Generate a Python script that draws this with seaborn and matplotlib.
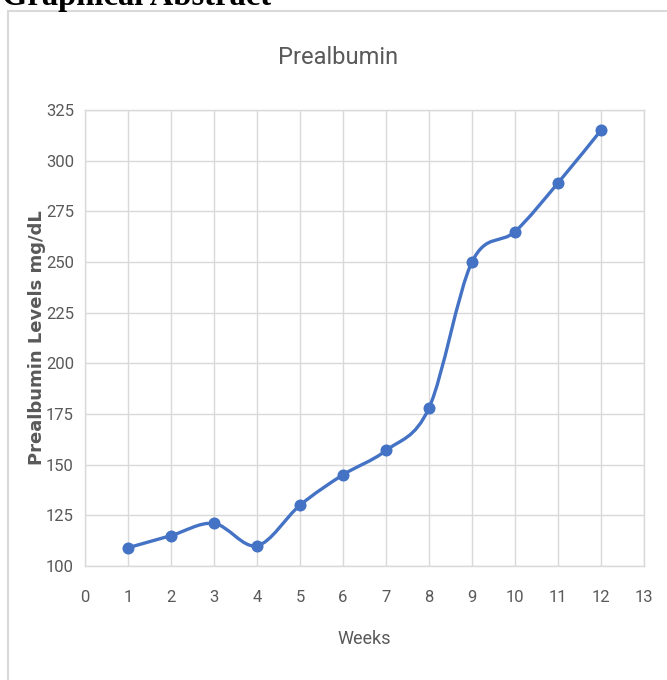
import numpy as np
import pandas as pd
import seaborn as sns
import matplotlib
matplotlib.use("Agg")
import matplotlib.pyplot as plt
from matplotlib.path import Path
from matplotlib.patches import PathPatch, Rectangle

weeks = [1, 2, 3, 4, 5, 6, 7, 8, 9, 10, 11, 12]
prealbumin = [109, 115, 121, 110, 130, 145, 157, 178, 250, 265, 289, 315]
x_ticks = list(range(0, 14))
y_ticks = [100, 125, 150, 175, 200, 225, 250, 275, 300, 325]
title = "Prealbumin"
x_label = "Weeks"
y_label = "Prealbumin Levels mg/dL"
header = "Graphical Abstract"

sns.set_theme(style="white")
plt.rcParams['font.family'] = ['Liberation Sans Narrow', 'Roboto', 'DejaVu Sans']

BLUE = "#4472C4"
GRID = "#d9d9d9"
TXT = "#595959"

fig = plt.figure(figsize=(6.67, 6.8), dpi=100)
ax = fig.add_axes([85/667, 1-566/680, (644-85)/667, (566-110)/680])

df = pd.DataFrame({"Weeks": weeks, "Prealbumin": prealbumin})

# smooth (Excel-like) curve via cubic Bezier segments through the data points
pts = np.column_stack([df["Weeks"].to_numpy(float), df["Prealbumin"].to_numpy(float)])
verts = [tuple(pts[0])]
codes = [Path.MOVETO]
n = len(pts)
for i in range(n - 1):
    p0 = pts[i - 1] if i > 0 else pts[i]
    p1 = pts[i]
    p2 = pts[i + 1]
    p3 = pts[i + 2] if i + 2 < n else pts[i + 1]
    c1 = p1 + (p2 - p0) / 6.0
    c2 = p2 - (p3 - p1) / 6.0
    verts += [tuple(c1), tuple(c2), tuple(p2)]
    codes += [Path.CURVE4] * 3
ax.add_patch(PathPatch(Path(verts, codes), facecolor="none", edgecolor=BLUE,
                       lw=2.4, capstyle="round", joinstyle="round", zorder=3))

sns.scatterplot(data=df, x="Weeks", y="Prealbumin", ax=ax, color=BLUE,
                s=75, edgecolor=BLUE, linewidth=0, zorder=4, legend=False)

ax.set_xlim(0, 13)
ax.set_ylim(100, 325)
ax.set_xticks(x_ticks)
ax.set_yticks(y_ticks)
ax.grid(True, color=GRID, lw=1)
for s in ax.spines.values():
    s.set_color(GRID)
    s.set_linewidth(1)
ax.tick_params(axis="both", length=0, labelsize=12, labelcolor=TXT)
ax.tick_params(axis="y", pad=8)
ax.tick_params(axis="x", pad=17)

ax.set_xlabel(x_label, fontsize=13, color=TXT, labelpad=18)
ax.set_ylabel(y_label, fontsize=13, color=TXT, fontweight="bold",
              family=['DejaVu Sans'], labelpad=0)
fig.text(338/667, 1 - 57/680, title, fontsize=17, color=TXT,
         ha="center", va="center")

# outer chart frame
fig.patches.append(Rectangle((8/667, -0.01), 1.0, 1 - 11/680 + 0.01,
                             transform=fig.transFigure, fill=False,
                             edgecolor=GRID, lw=1.5, zorder=0))
fig.text(2/667, 1 - 5/680, header, fontsize=23.5, fontweight="bold",
         family=['Liberation Serif', 'DejaVu Serif'], color="black",
         ha="left", va="baseline")

fig.savefig("out.png", dpi=100)
